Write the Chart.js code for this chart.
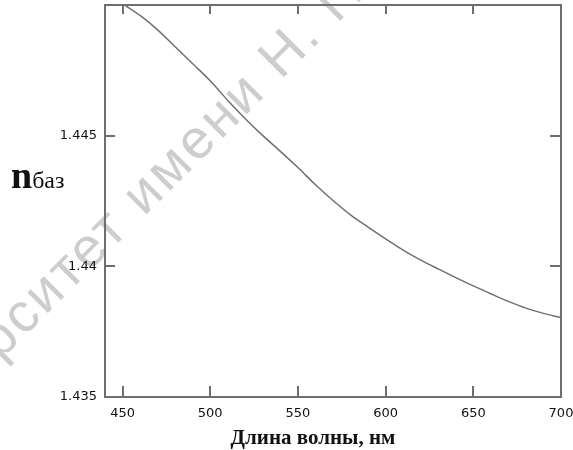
<!DOCTYPE html>
<html>
<head>
<meta charset="utf-8">
<script src="https://cdn.jsdelivr.net/npm/chart.js@4.4.1/dist/chart.umd.min.js"></script>
<style>
  html, body { margin: 0; padding: 0; background: #fff; }
  #box { width: 573px; height: 450px; }
</style>
</head>
<body>
<div id="box"><canvas id="n-chart"></canvas></div>
<script>
// wavelength, nm
var wavelength = [450, 460, 470, 480, 490, 500, 510, 520, 530, 540, 550, 560, 570,
                  580, 590, 600, 610, 620, 630, 640, 650, 660, 670, 680, 690, 700];
// refractive index of the base
var nBase = [1.45005, 1.44960, 1.44905, 1.44840, 1.44775, 1.44710, 1.44635, 1.44565,
             1.44500, 1.44440, 1.44378, 1.44312, 1.44252, 1.44197, 1.44150, 1.44105,
             1.44062, 1.44024, 1.43990, 1.43957, 1.43925, 1.43895, 1.43866, 1.43840,
             1.43820, 1.43804];
var xTicks = [450, 500, 550, 600, 650, 700];
var yTicks = [1.435, 1.44, 1.445, 1.45];
var yTickLabels = ["1.435", "1.44", "1.445", ""];

var axisColor = "#6e6e6e";
var tickFont = {family: "DejaVu Sans", size: 13};

// faint diagonal stamp behind everything
var stampPlugin = {
    id: "stamp",
    beforeDraw: function (chart) {
        var ctx = chart.ctx;
        ctx.save();
        ctx.fillStyle = "#cdcdcd";
        ctx.font = "55px 'Liberation Sans'";
        ctx.letterSpacing = "3px";
        ctx.translate(144, 217);
        ctx.rotate(-Math.PI / 4);
        var head = "университет ";
        var w = ctx.measureText(head).width;
        ctx.fillText(head + "имени Н. Г. Чернышевского", -w, 0);
        ctx.restore();
    }
};

// frame with inward ticks on all four sides, plus the axis captions
var framePlugin = {
    id: "frame",
    afterDatasetsDraw: function (chart) {
        var ctx = chart.ctx;
        var a = chart.chartArea;
        var xs = chart.scales.x, ys = chart.scales.y;
        ctx.save();
        ctx.strokeStyle = axisColor;
        ctx.lineWidth = 2;
        ctx.strokeRect(a.left, a.top, a.right - a.left, a.bottom - a.top);
        ctx.beginPath();
        xTicks.forEach(function (v) {
            var px = Math.round(xs.getPixelForValue(v));
            ctx.moveTo(px, a.bottom);
            ctx.lineTo(px, a.bottom - 11);
            ctx.moveTo(px, a.top);
            ctx.lineTo(px, a.top + 9);
        });
        yTicks.forEach(function (v) {
            var py = Math.round(ys.getPixelForValue(v));
            ctx.moveTo(a.left, py);
            ctx.lineTo(a.left + 10, py);
            ctx.moveTo(a.right, py);
            ctx.lineTo(a.right - 11, py);
        });
        ctx.stroke();

        ctx.fillStyle = "#111";
        ctx.textBaseline = "alphabetic";
        ctx.textAlign = "center";
        ctx.font = "bold 21px 'Liberation Serif'";
        ctx.fillText("Длина волны, нм", 313, 444);
        ctx.textAlign = "left";
        ctx.font = "bold 38px 'Liberation Serif'";
        ctx.fillText("n", 11, 188);
        var nw = ctx.measureText("n").width;
        ctx.font = "24px 'Liberation Serif'";
        ctx.fillText("баз", 11 + nw, 188);
        ctx.restore();
    }
};

var chart = new Chart("n-chart", {
    type: "line",
    data: {
        labels: wavelength,
        datasets: [{
            data: wavelength.map(function (x, i) { return {x: x, y: nBase[i]}; }),
            borderColor: "#707070",
            borderWidth: 1.5,
            pointRadius: 0,
            cubicInterpolationMode: "monotone",
            fill: false
        }]
    },
    options: {
        responsive: true,
        maintainAspectRatio: false,
        animation: false,
        layout: {padding: {top: 5, right: 12, left: 0, bottom: 0}},
        plugins: {legend: {display: false}, tooltip: {enabled: false}, title: {display: false}},
        scales: {
            x: {
                type: "linear",
                min: 440,
                max: 700,
                grid: {display: false, drawTicks: false},
                border: {display: false},
                afterBuildTicks: function (scale) {
                    scale.ticks = xTicks.map(function (v) { return {value: v}; });
                },
                afterFit: function (scale) {
                    scale.height = 53;
                    scale.paddingLeft = 0;
                    scale.paddingRight = 0;
                },
                ticks: {
                    color: "#111",
                    font: tickFont,
                    padding: 9,
                    maxRotation: 0,
                    autoSkip: false,
                    callback: function (v) { return String(v); }
                }
            },
            y: {
                min: 1.435,
                max: 1.45,
                grid: {display: false, drawTicks: false},
                border: {display: false},
                afterBuildTicks: function (scale) {
                    scale.ticks = yTicks.map(function (v) { return {value: v}; });
                },
                afterFit: function (scale) {
                    scale.width = 105;
                    scale.paddingTop = 0;
                    scale.paddingBottom = 0;
                },
                ticks: {
                    color: "#111",
                    font: tickFont,
                    padding: 8,
                    autoSkip: false,
                    callback: function (v, i) { return yTickLabels[i]; }
                }
            }
        }
    },
    plugins: [stampPlugin, framePlugin]
});
</script>
</body>
</html>
